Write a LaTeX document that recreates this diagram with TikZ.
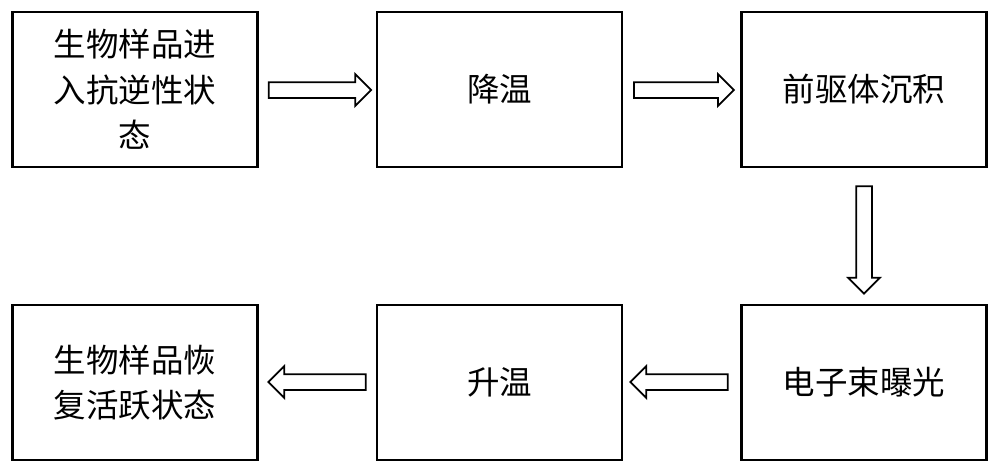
\documentclass[tikz,border=0pt]{standalone}
\usepackage{fontspec}
\newfontfamily\cjk{Noto Sans CJK SC}
\usetikzlibrary{shapes.arrows}
\begin{document}
\begin{tikzpicture}[x=0.02cm,y=-0.02cm,
  box/.style={draw,line width=1.2pt,minimum width=4.9cm,minimum height=3.1cm,font=\cjk\fontsize{18.5}{26}\selectfont,align=center,inner sep=2pt},
  barrow/.style={single arrow,draw,line width=1pt,inner xsep=0pt,inner ysep=0.14cm,single arrow head extend=0.16cm,single arrow head indent=0pt,minimum height=#1},
  barrow/.default=2cm]
\useasboundingbox (0,0) rectangle (1000,471);
\node[box,text width=4.6cm] (a) at (135,89.5) {生物样品进\\入抗逆性状\\态};
\node[box] (b) at (499.5,89.5) {降温};
\node[box] (c) at (864,89.5) {前驱体沉积};
\node[box] (d) at (864,382.5) {电子束曝光};
\node[box] (e) at (499.5,382.5) {升温};
\node[box] (f) at (135,382.5) {生物样品恢\\复活跃状态};
\node[barrow=2.05cm] (ab) at (316,90) {};
\node[barrow=2.0cm] (bc) at (680,90) {};
\node[barrow=2.15cm,rotate=-90] (cd) at (864,236) {};
\node[barrow=1.95cm,rotate=180] (de) at (683,382) {};
\node[barrow=1.95cm,rotate=180] (ef) at (321,382) {};
\end{tikzpicture}
\end{document}
